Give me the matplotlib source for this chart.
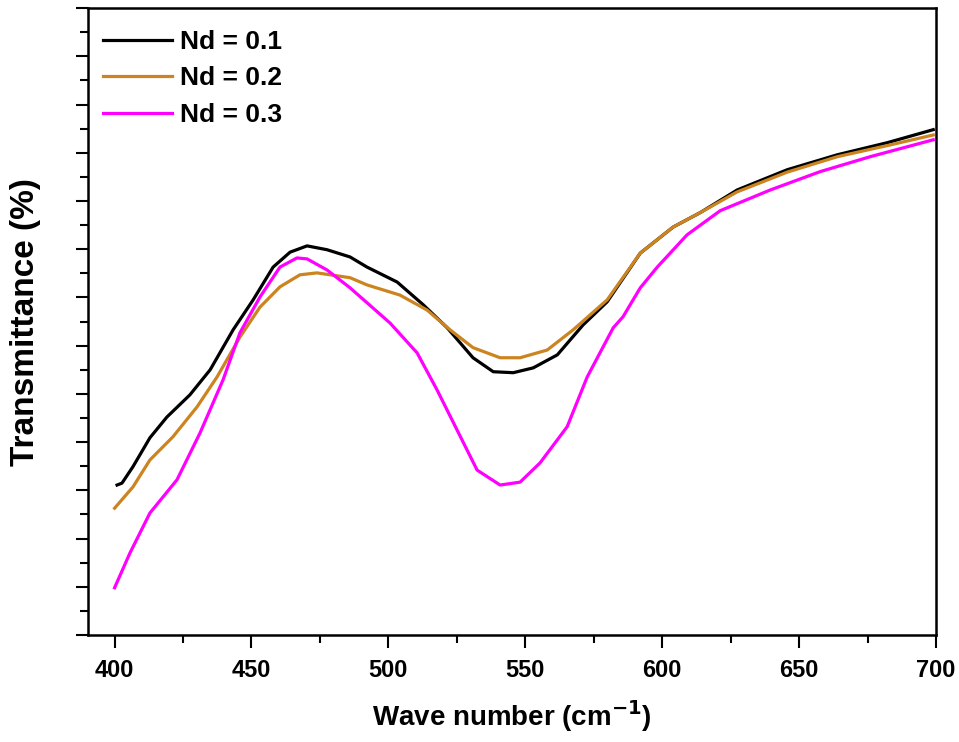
import matplotlib
matplotlib.use("Agg")
import matplotlib.pyplot as plt
from matplotlib.ticker import MultipleLocator, NullFormatter

plt.rcParams['font.family'] = ['Liberation Sans', 'DejaVu Sans']
plt.rcParams['font.weight'] = 'bold'

# Nd = 0.1
x1 = [400.9, 402.7, 406.7, 412.9, 419.1, 427.5, 434.9, 443.3, 450.6, 457.9, 464.1, 470.3,
      477.6, 486.0, 492.2, 503.2, 512.7, 521.5, 530.9, 538.3, 545.6, 552.9, 561.7, 571.1,
      579.9, 592.0, 604.0, 613.9, 627.4, 645.7, 664.0, 682.2, 699.0]
y1 = [3.11, 3.15, 3.49, 4.09, 4.52, 4.98, 5.50, 6.33, 6.95, 7.63, 7.94, 8.07,
      7.99, 7.84, 7.63, 7.32, 6.85, 6.37, 5.75, 5.46, 5.44, 5.54, 5.81, 6.43,
      6.91, 7.92, 8.46, 8.76, 9.23, 9.65, 9.96, 10.21, 10.48]

# Nd = 0.2
x2 = [400.0, 406.7, 412.9, 421.3, 430.1, 437.4, 445.8, 453.1, 460.4, 467.7, 473.9, 486.0,
      492.2, 504.2, 514.1, 522.5, 530.9, 540.8, 548.1, 558.0, 567.5, 579.9, 592.0, 604.0,
      613.9, 627.4, 645.7, 664.0, 682.2, 699.0]
y2 = [2.63, 3.07, 3.63, 4.11, 4.73, 5.35, 6.18, 6.80, 7.22, 7.47, 7.51, 7.41,
      7.26, 7.05, 6.74, 6.33, 5.96, 5.75, 5.75, 5.91, 6.33, 6.95, 7.92, 8.46,
      8.76, 9.19, 9.60, 9.92, 10.15, 10.37]

# Nd = 0.3
x3 = [400.0, 405.6, 412.9, 422.8, 431.2, 439.6, 445.8, 453.1, 460.4, 466.6, 470.3, 477.6,
      486.0, 492.2, 500.6, 510.5, 517.8, 525.1, 532.4, 540.8, 548.1, 555.4, 565.3, 572.6,
      582.1, 585.7, 592.0, 598.2, 609.1, 621.2, 639.5, 657.7, 676.0, 699.0]
y3 = [0.98, 1.70, 2.53, 3.22, 4.19, 5.29, 6.27, 7.01, 7.63, 7.82, 7.80, 7.57,
      7.20, 6.89, 6.47, 5.85, 5.08, 4.25, 3.42, 3.11, 3.17, 3.57, 4.32, 5.35,
      6.37, 6.60, 7.20, 7.63, 8.30, 8.80, 9.23, 9.61, 9.92, 10.27]

labels = ['Nd = 0.1', 'Nd = 0.2', 'Nd = 0.3']
colors = ['#000000', '#CC8420', '#FF00FF']
xticks = [400, 450, 500, 550, 600, 650, 700]

fig = plt.figure(figsize=(9.59, 7.42), dpi=100)
ax = fig.add_axes([0.0918, 0.1442, 0.976 - 0.0918, 0.989 - 0.1442])

for xs, ys, lab, c in zip([x1, x2, x3], [y1, y2, y3], labels, colors):
    ax.plot(xs, ys, color=c, lw=2.3, label=lab)

ax.set_xlim(390.3, 700)
ax.set_ylim(0, 13)
ax.set_xticks(xticks)
ax.set_xticklabels([str(t) for t in xticks])
ax.xaxis.set_minor_locator(MultipleLocator(25))
ax.yaxis.set_major_locator(MultipleLocator(1))
ax.yaxis.set_minor_locator(MultipleLocator(0.5))
ax.yaxis.set_major_formatter(NullFormatter())

for s in ax.spines.values():
    s.set_linewidth(1.8)
ax.tick_params(which='major', length=9, width=1.5, direction='out', labelsize=17, pad=8)
ax.tick_params(which='minor', length=6, width=1.5, direction='out')
ax.tick_params(top=False, right=False)
for t in ax.get_xticklabels():
    t.set_fontweight('bold')

ax.set_xlabel('Wave number (cm$^{\\mathbf{-1}}$)', fontsize=20, fontweight='bold', labelpad=12)
ax.set_ylabel('Transmittance (%)', fontsize=24, fontweight='bold')
ax.yaxis.set_label_coords(-0.056, 0.5)

leg = ax.legend(loc='upper left', bbox_to_anchor=(-0.004, 0.995), frameon=False,
                handlelength=2.6, handletextpad=0.3, labelspacing=0.48, borderaxespad=0.3,
                prop={'weight': 'bold', 'size': 19})

fig.savefig('out.png', dpi=100)
